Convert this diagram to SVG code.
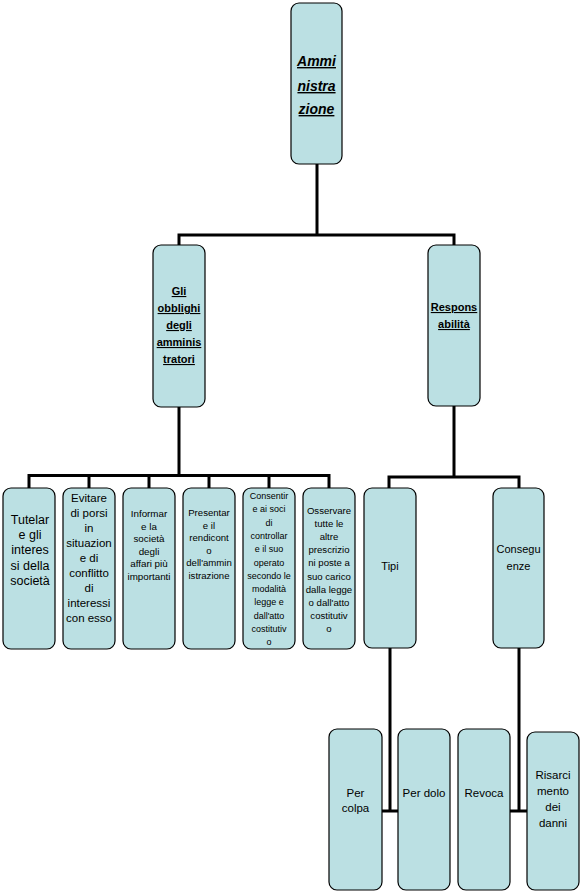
<svg xmlns="http://www.w3.org/2000/svg" width="582" height="894" viewBox="0 0 582 894">
<style>
.box{fill:#BBE0E3;stroke:#000;stroke-width:1.2}
.con{stroke:#000;stroke-width:3;fill:none}
text{font-family:"Liberation Sans",Arial,sans-serif;fill:#000;text-anchor:middle}
.h{font-weight:bold;text-decoration:underline;font-size:11px}
.t{font-weight:bold;font-style:italic;text-decoration:underline;font-size:14px}
.s9{font-size:9px}
.s95{font-size:9.6px}
.s10{font-size:9.8px}
.s11{font-size:11px}
.s115{font-size:11.5px}
.s12{font-size:12.5px}
</style>
<rect width="582" height="894" fill="#fff"/>
<g id="connectors">
<path class="con" d="M317 164V235M179 235H454M179 233.5V245M454 233.5V245"/>
<path class="con" d="M179 407V475.5M29 475.5H329M29 474V488M89 474V488M149 474V488M209 474V488M269 474V488M329 474V488"/>
<path class="con" d="M454 406V477M389 477H519M389 475.5V488M519 475.5V488"/>
<path class="con" d="M390 648V811M382 811H398"/>
<path class="con" d="M519 648V811M510 811H527"/>
</g>
<g id="n-amministrazione">
<rect class="box" x="291" y="3" width="51" height="161" rx="8"/>
<text class="t" x="316.5" y="66">Ammi</text>
<text class="t" x="316.5" y="91">nistra</text>
<text class="t" x="316.5" y="114">zione</text>
</g>
<g id="n-obblighi">
<rect class="box" x="153" y="245" width="52" height="162" rx="8"/>
<text class="h" x="179" y="295">Gli</text>
<text class="h" x="179" y="312">obblighi</text>
<text class="h" x="179" y="329">degli</text>
<text class="h" x="179" y="346">amminis</text>
<text class="h" x="179" y="363">tratori</text>
</g>
<g id="n-responsabilita">
<rect class="box" x="428" y="245" width="52" height="161" rx="8"/>
<text class="h" x="454" y="311">Respons</text>
<text class="h" x="454" y="328">abilità</text>
</g>
<g id="n-tutelare">
<rect class="box" x="3" y="488" width="52" height="161" rx="8"/>
<text class="s12" x="30" y="523.5">Tutelar</text>
<text class="s12" x="30" y="539">e gli</text>
<text class="s12" x="30" y="554">interes</text>
<text class="s12" x="30" y="569.5">si della</text>
<text class="s12" x="30" y="585">società</text>
</g>
<g id="n-evitare">
<rect class="box" x="63" y="488" width="52" height="161" rx="8"/>
<text class="s115" x="89" y="501.5">Evitare</text>
<text class="s115" x="89" y="516.5">di porsi</text>
<text class="s115" x="89" y="531.6">in</text>
<text class="s115" x="89" y="546.7">situazion</text>
<text class="s115" x="89" y="561.7">e di</text>
<text class="s115" x="89" y="576.8">conflitto</text>
<text class="s115" x="89" y="591.9">di</text>
<text class="s115" x="89" y="606.9">interessi</text>
<text class="s115" x="89" y="622">con esso</text>
</g>
<g id="n-informare">
<rect class="box" x="123" y="488" width="52" height="161" rx="8"/>
<text class="s10" x="149" y="517">Informar</text>
<text class="s10" x="149" y="529.6">e la</text>
<text class="s10" x="149" y="542.2">società</text>
<text class="s10" x="149" y="554.8">degli</text>
<text class="s10" x="149" y="567.4">affari più</text>
<text class="s10" x="149" y="580">importanti</text>
</g>
<g id="n-presentare">
<rect class="box" x="183" y="488" width="52" height="161" rx="8"/>
<text class="s95" x="209" y="516">Presentar</text>
<text class="s95" x="209" y="528.6">e il</text>
<text class="s95" x="209" y="541.2">rendicont</text>
<text class="s95" x="209" y="553.8">o</text>
<text class="s95" x="209" y="566.4">dell'ammin</text>
<text class="s95" x="209" y="579">istrazione</text>
</g>
<g id="n-consentire">
<rect class="box" x="243" y="488" width="52" height="161" rx="8"/>
<text class="s9" x="269" y="499">Consentir</text>
<text class="s9" x="269" y="512.3">e ai soci</text>
<text class="s9" x="269" y="525.6">di</text>
<text class="s9" x="269" y="538.9">controllar</text>
<text class="s9" x="269" y="552.2">e il suo</text>
<text class="s9" x="269" y="565.5">operato</text>
<text class="s9" x="269" y="578.8">secondo le</text>
<text class="s9" x="269" y="592.1">modalità</text>
<text class="s9" x="269" y="605.4">legge e</text>
<text class="s9" x="269" y="618.7">dall'atto</text>
<text class="s9" x="269" y="632">costitutiv</text>
<text class="s9" x="269" y="645.3">o</text>
</g>
<g id="n-osservare">
<rect class="box" x="303" y="488" width="52" height="161" rx="8"/>
<text class="s95" x="329" y="513.5">Osservare</text>
<text class="s95" x="329" y="526.7">tutte le</text>
<text class="s95" x="329" y="539.9">altre</text>
<text class="s95" x="329" y="553.1">prescrizio</text>
<text class="s95" x="329" y="566.3">ni poste a</text>
<text class="s95" x="329" y="579.5">suo carico</text>
<text class="s95" x="329" y="592.7">dalla legge</text>
<text class="s95" x="329" y="605.9">o dall'atto</text>
<text class="s95" x="329" y="619.1">costitutiv</text>
<text class="s95" x="329" y="632.3">o</text>
</g>
<g id="n-tipi">
<rect class="box" x="364" y="488" width="52" height="160" rx="8"/>
<text class="s11" x="390" y="570">Tipi</text>
</g>
<g id="n-conseguenze">
<rect class="box" x="493" y="488" width="51" height="160" rx="8"/>
<text class="s11" x="518.5" y="553">Consegu</text>
<text class="s11" x="518.5" y="570">enze</text>
</g>
<g id="n-percolpa">
<rect class="box" x="329" y="729" width="53" height="161" rx="8"/>
<text class="s115" x="355.5" y="797">Per</text>
<text class="s115" x="355.5" y="812">colpa</text>
</g>
<g id="n-perdolo">
<rect class="box" x="398" y="729" width="52" height="161" rx="8"/>
<text class="s115" x="424" y="797">Per dolo</text>
</g>
<g id="n-revoca">
<rect class="box" x="458" y="729" width="52" height="161" rx="8"/>
<text class="s115" x="484" y="797">Revoca</text>
</g>
<g id="n-risarcimento">
<rect class="box" x="527" y="732" width="52" height="158" rx="8"/>
<text class="s115" x="553" y="779">Risarci</text>
<text class="s115" x="553" y="795">mento</text>
<text class="s115" x="553" y="811">dei</text>
<text class="s115" x="553" y="827">danni</text>
</g>
</svg>
